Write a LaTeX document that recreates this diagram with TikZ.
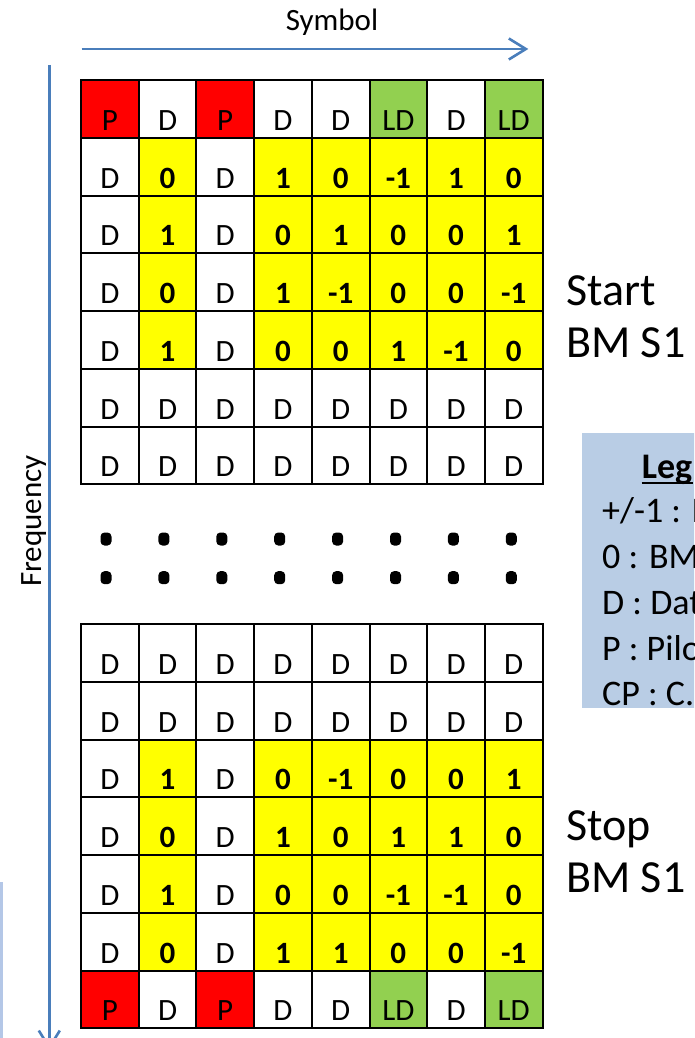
\documentclass[tikz,border=0pt]{standalone}
\usepackage{fontspec}
\setmainfont{Carlito}
\usetikzlibrary{arrows.meta}
\definecolor{pRed}{HTML}{FF0000}
\definecolor{pGreen}{HTML}{92D050}
\definecolor{pYel}{HTML}{FFFF00}
\definecolor{pBlue}{HTML}{4A7EBB}
\definecolor{pLeg}{HTML}{B9CDE5}
\definecolor{pLight}{HTML}{B4C7E7}
\begin{document}
\begin{tikzpicture}[x=1pt,y=-1pt,
  cell/.style={draw=black,line width=2pt,minimum width=57.7pt,minimum height=57.7pt,
    inner sep=0pt,text height=50.2pt,text depth=7.5pt,font=\fontsize{31}{36}\selectfont},
  cR/.style={fill=pRed},
  cW/.style={fill=white},
  cG/.style={fill=pGreen},
  cY/.style={fill=pYel,font=\fontsize{31}{36}\selectfont\bfseries},
  dotbox/.style={fill=black,rounded corners=4pt,minimum width=11pt,minimum height=13pt,inner sep=0pt},
  axis/.style={draw=pBlue,line width=2.6pt,-{Straight Barb[length=17pt,width=21pt]}},
  lbl/.style={font=\fontsize{31}{36}\selectfont,inner sep=0pt},
  big/.style={font=\fontsize{46}{52}\selectfont,inner sep=0pt,anchor=base west},
  legtxt/.style={font=\fontsize{36}{42}\selectfont,inner sep=0pt,anchor=base west}]
\useasboundingbox (0,0) rectangle (694,1038);
\clip (0,0) rectangle (694,1038);

% axes
\coordinate (hs) at (81.7,49);
\coordinate (he) at (528.3,49);
\draw[axis] (hs) -- (he);
\coordinate (vs) at (49.3,65);
\coordinate (ve) at (49.3,1050);
\draw[axis] (vs) -- (ve);
\node[lbl,anchor=base] (symlbl) at (332,31) {Symbol};
\node[lbl,anchor=base,rotate=90] (freqlbl) at (41,521) {Frequency};

% faint line at left edge
\coordinate (fa) at (1.5,882);
\coordinate (fb) at (1.5,1040);
\draw[pLight,line width=3pt] (fa) -- (fb);

% top grid
\foreach \row [count=\r] in {
  {cR/P,cW/D,cR/P,cW/D,cW/D,cG/LD,cW/D,cG/LD},
  {cW/D,cY/0,cW/D,cY/1,cY/0,cY/-1,cY/1,cY/0},
  {cW/D,cY/1,cW/D,cY/0,cY/1,cY/0,cY/0,cY/1},
  {cW/D,cY/0,cW/D,cY/1,cY/-1,cY/0,cY/0,cY/-1},
  {cW/D,cY/1,cW/D,cY/0,cY/0,cY/1,cY/-1,cY/0},
  {cW/D,cW/D,cW/D,cW/D,cW/D,cW/D,cW/D,cW/D},
  {cW/D,cW/D,cW/D,cW/D,cW/D,cW/D,cW/D,cW/D}} {
  \foreach \s/\t [count=\c] in \row {
    \node[cell,\s] (t-\r-\c) at ({81+(\c-0.5)*57.7},{80.3+(\r-0.5)*57.7}) {\t};
  }
}

% bottom grid
\foreach \row [count=\r] in {
  {cW/D,cW/D,cW/D,cW/D,cW/D,cW/D,cW/D,cW/D},
  {cW/D,cW/D,cW/D,cW/D,cW/D,cW/D,cW/D,cW/D},
  {cW/D,cY/1,cW/D,cY/0,cY/-1,cY/0,cY/0,cY/1},
  {cW/D,cY/0,cW/D,cY/1,cY/0,cY/1,cY/1,cY/0},
  {cW/D,cY/1,cW/D,cY/0,cY/0,cY/-1,cY/-1,cY/0},
  {cW/D,cY/0,cW/D,cY/1,cY/1,cY/0,cY/0,cY/-1},
  {cR/P,cW/D,cR/P,cW/D,cW/D,cG/LD,cW/D,cG/LD}} {
  \foreach \s/\t [count=\c] in \row {
    \node[cell,\s] (b-\r-\c) at ({81+(\c-0.5)*57.7},{624.3+(\r-0.5)*57.7}) {\t};
  }
}

% ellipsis dots
\foreach \c in {1,...,8} {
  \node[dotbox] (dA-\c) at ({106+(\c-1)*57.9},539) {};
  \node[dotbox] (dB-\c) at ({106+(\c-1)*57.9},577.7) {};
}

% start / stop labels
\node[big] (start1) at (566,305) {Start};
\node[big] (start2) at (566,357) {BM S1};
\node[big] (stop1) at (566,840) {Stop};
\node[big] (stop2) at (566,892) {BM S1};

% legend
\node[fill=pLeg,inner sep=0pt,anchor=north west,minimum width=120pt,minimum height=275.3pt] (legbox) at (581.7,432.7) {};
\node[legtxt,font=\fontsize{36}{42}\selectfont\bfseries] (legtitle) at (641.7,478) {Leg};
\draw[line width=2pt] ([yshift=-5pt]legtitle.base west) -- ([yshift=-5pt]legtitle.base east);
\node[legtxt] (leg1) at (602,522) {+/-1 : B};
\node[legtxt] (leg2) at (602,568) {0 : BM};
\node[legtxt] (leg3) at (602,614) {D : Dat};
\node[legtxt] (leg4) at (602,660) {P : Pilo};
\node[legtxt] (leg5) at (602,705) {CP : C.};
\end{tikzpicture}
\end{document}
